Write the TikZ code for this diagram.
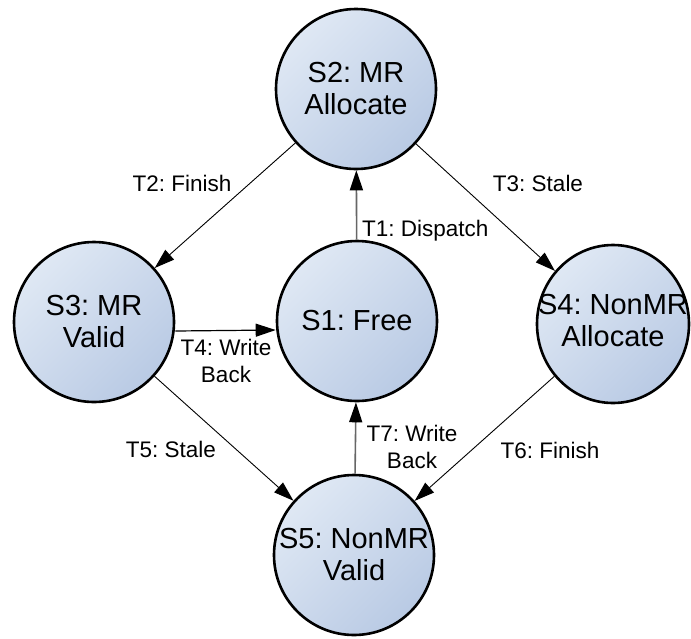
\documentclass[tikz,border=0pt]{standalone}
\usepackage{fontspec}
\setmainfont{Liberation Sans}
\usetikzlibrary{arrows.meta,shapes.geometric}

\definecolor{statelight}{HTML}{DFE8F4}
\definecolor{statedark}{HTML}{B9CAE4}

\begin{document}
\frenchspacing
\begin{tikzpicture}[x=1pt,y=-1pt,
  state/.style={ellipse, draw=black, line width=2.6pt,
    minimum width=160pt, minimum height=160pt, inner sep=0pt,
    top color=statelight, bottom color=statedark, shading angle=45},
  statetext/.style={font=\fontsize{29}{32}\selectfont, align=center, inner sep=0pt},
  tlabel/.style={font=\fontsize{22.5}{27}\selectfont, align=center, inner sep=0pt},
  thinarrow/.style={-{Triangle[length=20pt,width=13pt]}, line width=0.9pt, draw=black},
  mainarrow/.style={-{Triangle[length=20pt,width=13pt,color=black]}, line width=1.6pt, draw=gray!80!black},
]
\fill[white] (0,0) rectangle (691,638);
\useasboundingbox (0,0) rectangle (691,638);

% states
\node[state] (S2) at (356,89) {};
\node[state] (S1) at (357,321) {};
\node[state] (S3) at (94,322) {};
\node[state, minimum width=152pt, minimum height=158pt] (S4) at (613,324) {};
\node[state] (S5) at (354,555) {};

\node[statetext] (S2t) at (S2) {S2: MR\\Allocate};
\node[statetext] (S1t) at (S1) {S1: Free};
\node[statetext] (S3t) at (S3) {S3: MR\\Valid};
\node[statetext] (S4t) at ([yshift=3pt]S4.center) {S4: NonMR\\Allocate};
\node[statetext] (S5t) at (S5) {S5: NonMR\\Valid};

% transitions
\draw[mainarrow] (S1) -- (S2);
\draw[thinarrow] (S2) -- (S3);
\draw[thinarrow] (S2) -- (S4);
\draw[thinarrow, line width=1.2pt] ([yshift=-9pt]S3.east) -- ([yshift=-9pt]S1.west);
\draw[thinarrow] (S3) -- (S5);
\draw[thinarrow] (S4) -- (S5);
\draw[mainarrow] (S5) -- (S1);

% transition labels
\node[tlabel, anchor=west] (L1) at (362,231) {T1: Dispatch};
\node[tlabel] (L2) at (182,183) {T2: Finish};
\node[tlabel] (L3) at (538,183) {T3: Stale};
\node[tlabel] (L4) at (226,361) {T4: Write\\Back};
\node[tlabel] (L5) at (171,449) {T5: Stale};
\node[tlabel] (L6) at (550,450) {T6: Finish};
\node[tlabel] (L7) at (412,447) {T7: Write\\Back};
\end{tikzpicture}
\end{document}
